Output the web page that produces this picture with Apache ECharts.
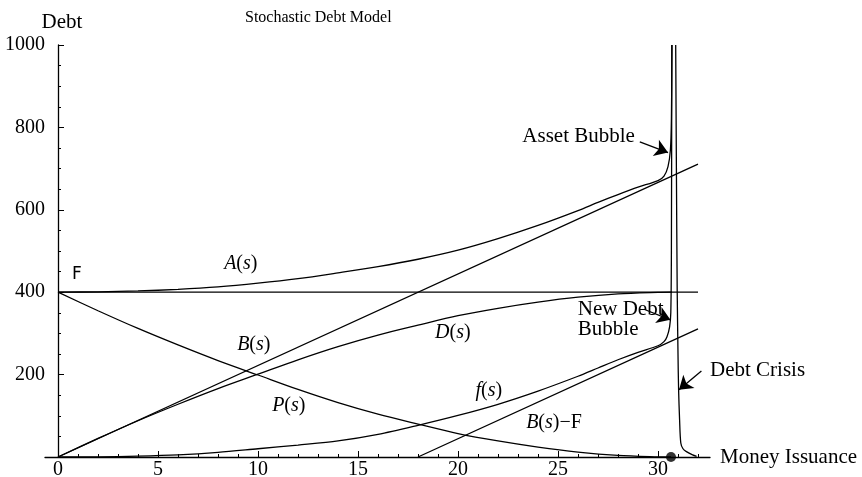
<!DOCTYPE html>
<html>
<head>
<meta charset="utf-8">
<script src="https://cdn.jsdelivr.net/npm/echarts@6/dist/echarts.min.js"></script>
<style>html,body{margin:0;padding:0;background:#fff}#c{width:862px;height:477px}</style>
</head>
<body>
<div id="c"></div>
<script>
// ---------- data ----------
const xTickLabels = [0, 5, 10, 15, 20, 25, 30];
const yTickLabels = [0, 200, 400, 600, 800, 1000];
const F = 400;

// F (constant level)
const sF = [0, 32];
const vF = [F, F];

// A(s) with asset bubble
const sA = [0, 2, 4, 6, 8, 10, 12, 14, 16, 18, 20, 22, 24, 26, 27, 28, 29, 30, 30.3, 30.5, 30.62, 30.67, 30.7];
const vA = [400, 401, 403, 407, 413, 422, 433, 447, 462, 480, 502, 530, 562, 598, 618, 637, 655, 671, 682, 705, 745, 820, 1000];

// B(s)
const sB = [0, 32];
const vB = [0, 711];

// D(s)
const sD = [0, 2, 4, 6, 8, 10, 12, 14, 16, 18, 20, 22, 24, 26, 28, 30, 30.7];
const vD = [0, 45, 88, 128, 166, 201, 236, 268, 296, 320, 343, 361, 376, 388, 396, 399.5, 400];

// P(s)
const sP = [0, 2, 4, 6, 8, 10, 12, 14, 16, 18, 20, 22, 24, 26, 28, 30, 30.65];
const vP = [400, 355, 312, 272, 234, 199, 164, 132, 104, 80, 57, 39, 24, 12, 4, 0.5, 0];

// f(s) with new debt bubble
const sf = [0, 2, 4, 6, 8, 10, 12, 14, 16, 18, 20, 22, 24, 26, 27, 28, 29, 30, 30.3, 30.45, 30.58, 30.64, 30.67, 30.69];
const vf = [0, 0.5, 2, 5, 11, 20, 29, 39, 55, 77, 101, 128, 160, 196, 216, 236, 254, 270, 280, 292, 316, 350, 500, 1000];

// B(s) - F
const sBF = [18, 32];
const vBF = [0, 311];

// Debt crisis branch
const sC = [30.885, 30.92, 30.96, 31.0, 31.03, 31.08, 31.14, 31.25, 31.42, 31.73, 31.93];
const vC = [1000, 700, 405, 250, 163, 90, 34, 20, 13, 5, 1.5];

// singular point marked on the axis
const sStar = [30.65];
const vStar = [0];

// ---------- chart ----------
const font = 'Liberation Serif';
const black = '#000';
const pairs = (xs, ys) => xs.map((x, i) => [x, ys[i]]);
const xMinorTicks = [];
for (let i = 0; i <= 32; i++) xMinorTicks.push(i);

const baseLine = { color: black, width: 1.3 };
function curve(name, xs, ys, smooth) {
  return {
    name, type: 'line', data: pairs(xs, ys), symbol: 'none', showSymbol: false,
    smooth: smooth ? 0.3 : false, clip: true,
    lineStyle: baseLine, silent: true, z: 3
  };
}

const txt = { color: black, fontFamily: font, fontSize: 21 };
const ital = { fontStyle: 'italic', fontFamily: font, fontSize: 20, color: black };
function lab(coord, text, extra) {
  return {
    coord, symbol: 'circle', symbolSize: 0,
    label: Object.assign({ show: true, position: 'inside', formatter: text, color: black,
      fontFamily: font, fontSize: 20, rich: { i: ital } }, extra || {})
  };
}

const option = {
  animation: false,
  backgroundColor: '#fff',
  title: {
    text: 'Stochastic Debt Model', left: 240, top: 5,
    textStyle: { fontFamily: font, fontSize: 16, fontWeight: 'normal', color: black }
  },
  grid: { left: 45, right: 152, top: 45, bottom: 20, containLabel: false, outerBoundsMode: 'none' },
  xAxis: [{
    type: 'value', min: -0.65, max: 32.6, position: 'bottom',
    axisLine: { show: true, onZero: true, lineStyle: baseLine },
    axisTick: { show: true, inside: true, length: 3, customValues: xMinorTicks, lineStyle: { color: black, width: 1 } },
    axisLabel: { show: true, customValues: xTickLabels, margin: 3, color: black, fontFamily: font, fontSize: 20 },
    splitLine: { show: false },
    name: 'Money Issuance', nameLocation: 'end', nameGap: 10,
    nameTextStyle: txt
  }, {
    type: 'value', min: -0.65, max: 32.6, position: 'bottom',
    axisLine: { show: false },
    axisTick: { show: true, inside: true, length: 6, customValues: xTickLabels, lineStyle: { color: black, width: 1 } },
    axisLabel: { show: false },
    splitLine: { show: false }
  }],
  yAxis: {
    type: 'value', min: yTickLabels[0], max: yTickLabels[yTickLabels.length - 1], interval: 200,
    axisLine: { show: true, onZero: true, onZeroAxisIndex: 0, lineStyle: baseLine },
    axisTick: { show: true, inside: true, length: 6, lineStyle: { color: black, width: 1 } },
    minorTick: { show: true, splitNumber: 4, length: 3, lineStyle: { color: black, width: 1 } },
    axisLabel: { margin: 0, color: black, fontFamily: font, fontSize: 20, showMinLabel: false,
      formatter: v => String(v) },
    splitLine: { show: false }, minorSplitLine: { show: false },
    name: 'Debt', nameLocation: 'end', nameGap: 12, nameTextStyle: Object.assign({}, txt, { padding: [0, 0, 0, 8] })
  },
  series: [
    curve('F', sF, vF, false),
    curve('A(s)', sA, vA, true),
    curve('B(s)', sB, vB, false),
    curve('D(s)', sD, vD, true),
    curve('P(s)', sP, vP, true),
    curve('f(s)', sf, vf, true),
    curve('B(s)-F', sBF, vBF, false),
    curve('Debt Crisis', sC, vC, true),
    {
      name: 'singularity', type: 'scatter', data: pairs(sStar, vStar), symbolSize: 10,
      itemStyle: { color: black }, clip: false, z: 5, silent: true
    },
    {
      name: 'annotations', type: 'line', data: [], clip: false, silent: true, z: 6,
      markPoint: {
        silent: true,
        data: [
          lab([0.94, 442], 'F', { fontFamily: 'DejaVu Sans', fontSize: 17 }),
          lab([9.14, 468], '{i|A}({i|s})'),
          lab([9.79, 272], '{i|B}({i|s})'),
          lab([11.54, 124], '{i|P}({i|s})'),
          lab([19.74, 301], '{i|D}({i|s})'),
          lab([21.54, 160], '{i|f}({i|s})'),
          lab([24.8, 82.5], '{i|B}({i|s})\u2212F'),
          lab([26.03, 777], 'Asset Bubble', { fontSize: 21 }),
          lab([25.99, 333], 'New Debt\nBubble', { position: 'right', distance: 0, align: 'left', lineHeight: 20, fontSize: 21 }),
          lab([32.6, 209], 'Debt Crisis', { position: 'right', distance: 0, align: 'left', fontSize: 21 })
        ]
      },
      markLine: {
        silent: true, symbol: ['none', 'arrow'], symbolSize: 13,
        label: { show: false },
        lineStyle: { color: black, width: 1.3, type: 'solid' },
        data: [
          [{ coord: [29.09, 765] }, { coord: [30.5, 739] }],
          [{ coord: [29.33, 358] }, { coord: [30.62, 333] }],
          [{ coord: [32.17, 209] }, { coord: [31.05, 163] }]
        ]
      }
    }
  ]
};

const chart = echarts.init(document.getElementById('c'), null, { renderer: 'canvas' });
chart.setOption(option);
</script>
</body>
</html>
